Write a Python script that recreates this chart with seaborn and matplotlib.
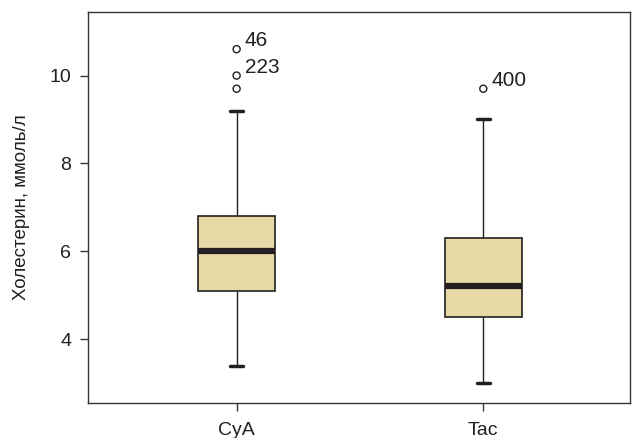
import pandas as pd
import matplotlib
matplotlib.use('Agg')
import matplotlib.pyplot as plt
import seaborn as sns

# five-number summaries (whisker low, Q1, median, Q3, whisker high)
groups = ['CyA', 'Tac']
whisker_low = [3.4, 3.0]
q1 = [5.1, 4.5]
median = [6.0, 5.2]
q3 = [6.8, 6.3]
whisker_high = [9.2, 9.0]

# outliers with their case numbers ('' = no label)
outlier_group = ['CyA', 'CyA', 'CyA', 'Tac']
outlier_value = [10.6, 10.0, 9.7, 9.7]
outlier_label = ['46', '223', '', '400']

box_color = '#e6d9a6'
edge = '#231f20'

sns.set_style('white')
plt.rcParams['font.family'] = ['Liberation Sans', 'DejaVu Sans']

rows = []
for i, g in enumerate(groups):
    for v in [whisker_low[i], q1[i], median[i], q3[i], whisker_high[i]]:
        rows.append({'Group': g, 'Value': v})
df = pd.DataFrame(rows)
out_df = pd.DataFrame({'Group': outlier_group, 'Value': outlier_value, 'Label': outlier_label})

fig = plt.figure(figsize=(6.32, 4.38), dpi=100)
ax = fig.add_axes([0.139, 0.080, 0.858, 0.893])

sns.boxplot(x='Group', y='Value', data=df, order=groups, ax=ax
            , whis=(0, 100)
            , width=0.31
            , color=box_color
            , saturation=1
            , linecolor=edge
            , linewidth=1.2
            , showfliers=False
            , medianprops={'color': edge, 'linewidth': 4.5, 'solid_capstyle': 'butt'}
            , capprops={'color': edge, 'linewidth': 2.5}
            , whiskerprops={'color': edge, 'linewidth': 1}
            , capwidths=0.055)

# outliers as open circles
sns.scatterplot(x='Group', y='Value', data=out_df, ax=ax
                , marker='o', s=26, facecolor='none', edgecolor=edge, linewidth=1
                , legend=False)

for _, r in out_df.iterrows():
    if r['Label']:
        ax.annotate(r['Label'], xy=(groups.index(r['Group']), r['Value'])
                    , xytext=(6, 2), textcoords='offset points'
                    , fontsize=15, va='baseline', ha='left', color=edge)

ax.set_xlim(-0.603, 1.595)
ax.set_ylim(2.55, 11.45)
ax.set_yticks([4, 6, 8, 10])
ax.set_xlabel('')
ax.set_ylabel('Холестерин, ммоль/л', fontsize=13.5, color=edge, labelpad=14)
ax.tick_params(axis='both', direction='out', length=6, width=1, color='#333333'
               , labelsize=14, labelcolor=edge, left=True, bottom=True)
ax.tick_params(axis='x', pad=8)
ax.tick_params(axis='y', pad=6)
for s in ax.spines.values():
    s.set_visible(True)
    s.set_color('#333333')
    s.set_linewidth(1)

fig.savefig('out.png', dpi=100)
